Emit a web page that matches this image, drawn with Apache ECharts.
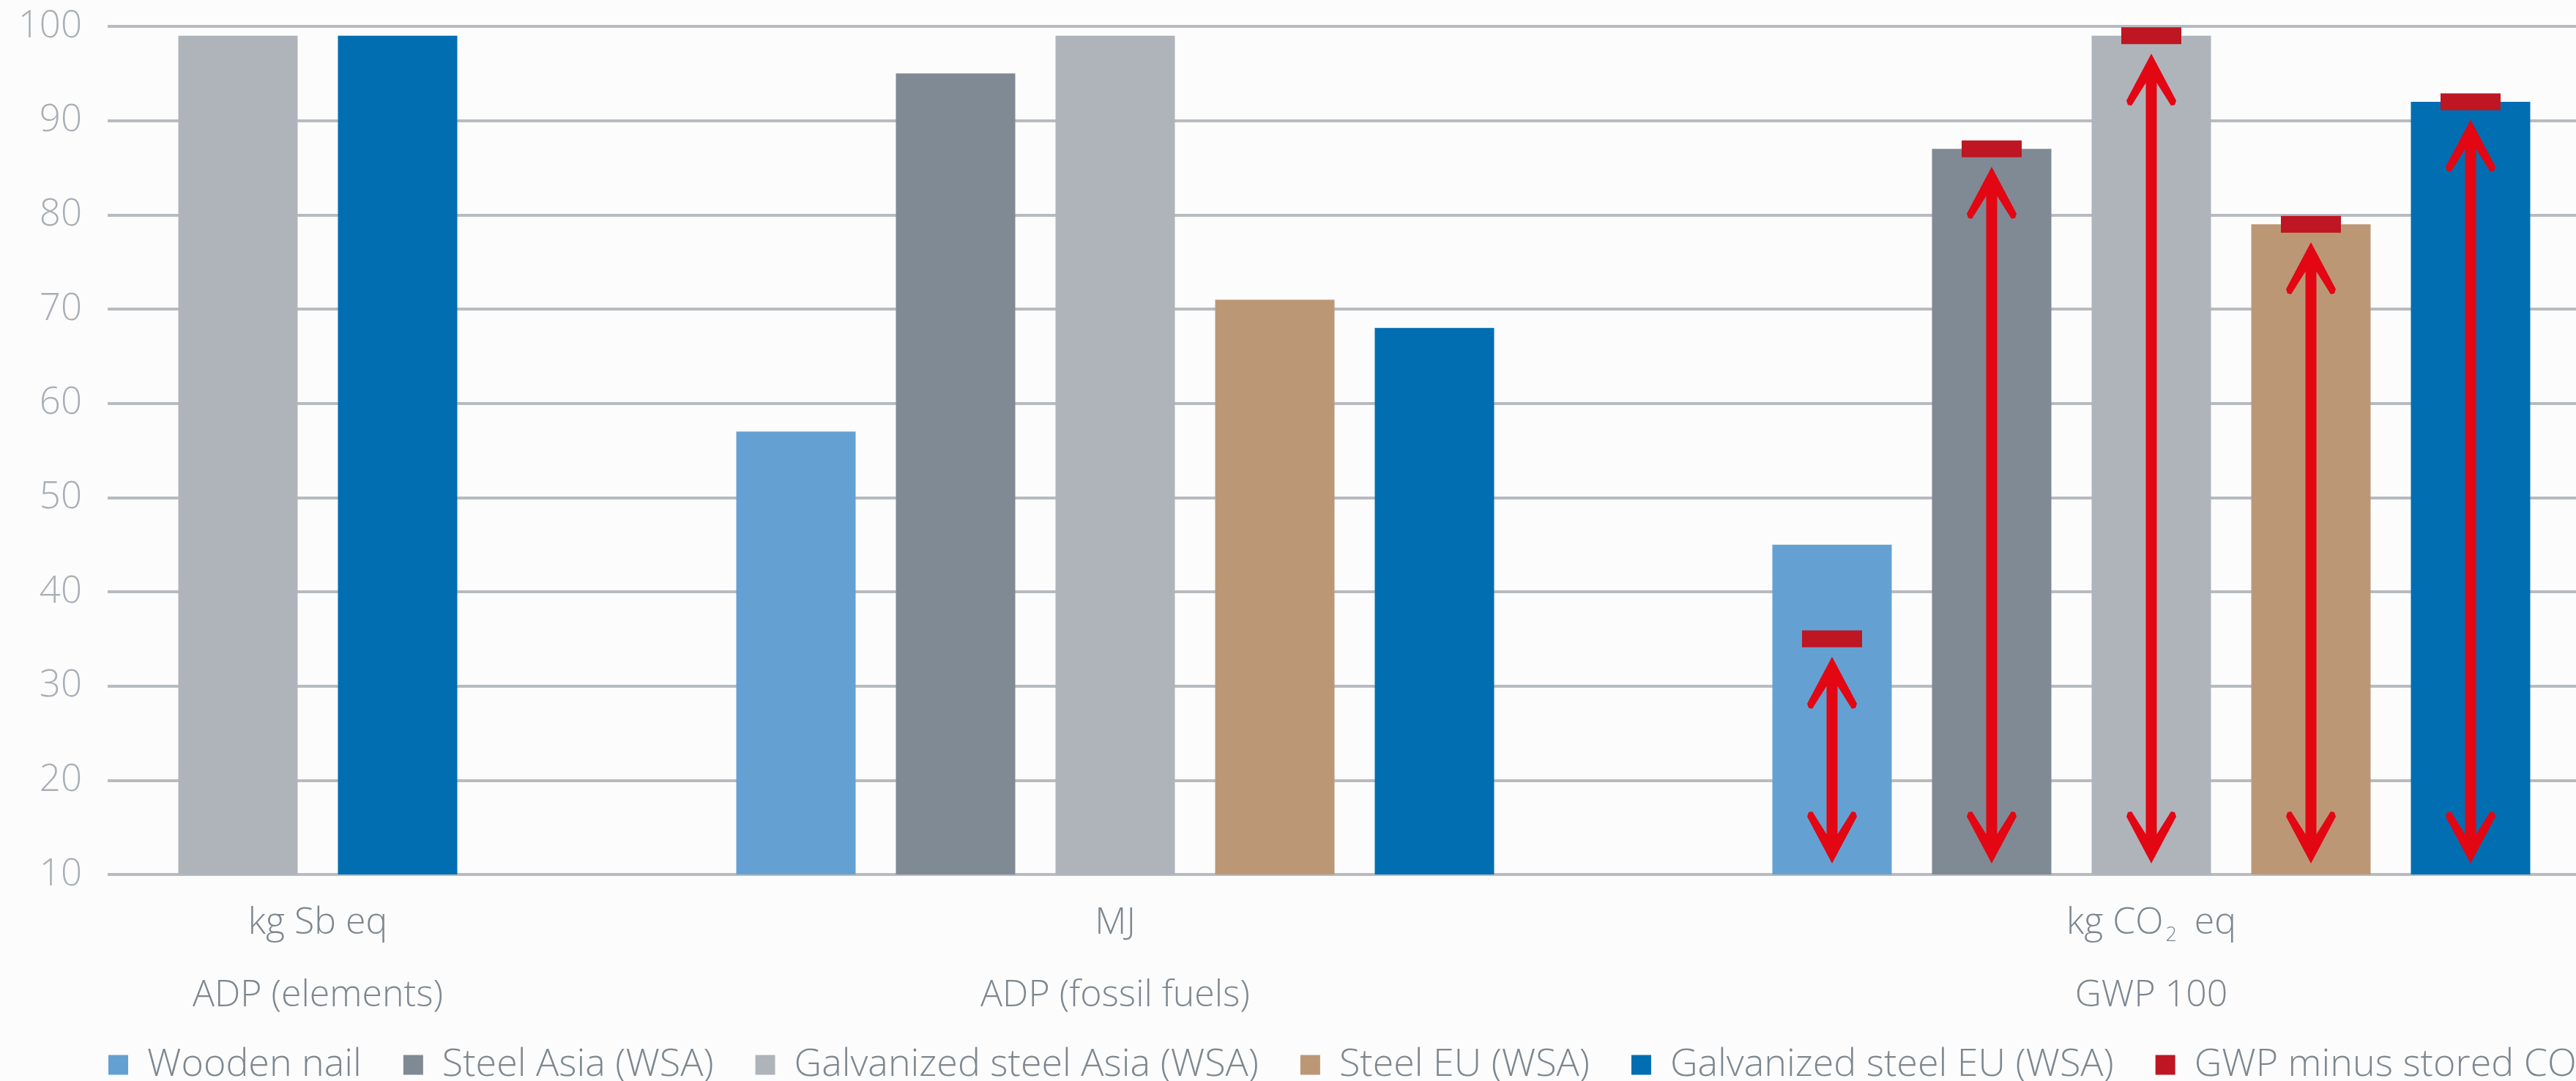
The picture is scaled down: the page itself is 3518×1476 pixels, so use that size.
<!DOCTYPE html>
<html>
<head>
<meta charset="utf-8">
<style>
html,body{margin:0;padding:0;background:#fcfcfc;}
#chart{width:3518px;height:1476px;}
</style>
<script src="https://cdn.jsdelivr.net/npm/echarts@6/dist/echarts.min.js"></script>
</head>
<body>
<div id="chart"></div>
<script>
// ---------------- data ----------------
const groupNames = ['ADP (elements)', 'ADP (fossil fuels)', 'GWP 100'];
const groupUnits = ['kg Sb eq', 'MJ', 'kg CO{sub|2}eq'];
const materials = ['Wooden nail', 'Steel Asia (WSA)', 'Galvanized steel Asia (WSA)', 'Steel EU (WSA)', 'Galvanized steel EU (WSA)'];
const adpElements = [null, null, 99, null, 99];
const adpFossilFuels = [57, 95, 99, 71, 68];
const gwp100 = [45, 87, 99, 79, 92];
const gwpMinusStoredName = 'GWP minus stored CO₂';
const gwpMinusStoredCO2 = [35, 87, 99, 79, 92];
const yMin = 10, yMax = 100, yInterval = 10;

// ---------------- styles ----------------
const materialColors = ['#65a0d2', '#808a94', '#afb4bb', '#bc9776', '#006eb1'];
const gwpMinusColor = '#be1622';
const arrowColor = '#e30613';
const FONT = '"Open Sans", "Liberation Sans", sans-serif';
const textColor = '#7e878f';
const gridTop = 36, gridBottom = 282;
const groupBoxes = [{left: 216, width: 436}, {left: 978, width: 1090}, {left: 2393, width: 1090}];

const groupValues = [adpElements, adpFossilFuels, gwp100];

const grids = [{left: 147, right: 0, top: gridTop, bottom: gridBottom}];
const xAxes = [{gridIndex: 0, type: 'category', data: [''], show: false}];
const yAxes = [{
  gridIndex: 0, type: 'value', min: yMin, max: yMax, interval: yInterval,
  axisLine: {show: false}, axisTick: {show: false},
  axisLabel: {margin: 35, fontSize: 51, color: '#a9aeb4', fontFamily: FONT, fontWeight: 300},
  splitLine: {lineStyle: {color: '#b7bbc0', width: 4}}
}];
const series = [];

groupValues.forEach(function (vals, g) {
  const gi = g + 1;
  const cats = materials.filter(function (m, i) { return vals[i] != null; });
  grids.push({left: groupBoxes[g].left, width: groupBoxes[g].width, top: gridTop, bottom: gridBottom});
  xAxes.push({
    gridIndex: gi, type: 'category', data: cats,
    axisLine: {show: false}, axisTick: {show: false}, axisLabel: {show: false},
    name: groupUnits[g] + '\n' + groupNames[g],
    nameLocation: 'middle', nameGap: 17,
    nameTextStyle: {
      fontSize: 50, color: textColor, fontFamily: FONT, fontWeight: 300, lineHeight: 99,
      rich: {sub: {fontSize: 27, color: textColor, fontFamily: FONT, fontWeight: 300, lineHeight: 40, padding: [34, 24, 0, 3]}}
    }
  });
  yAxes.push({gridIndex: gi, type: 'value', min: yMin, max: yMax, interval: yInterval, show: false});
  materials.forEach(function (m, i) {
    if (vals[i] == null) return;
    series.push({
      type: 'bar', name: m, xAxisIndex: gi, yAxisIndex: gi,
      barWidth: 163, barGap: '-100%',
      itemStyle: {color: materialColors[i]},
      data: cats.map(function (c) { return c === m ? vals[i] : null; }),
      z: 2
    });
  });
  if (g === 2) {
    // double-headed arrows from the axis base up to the "GWP minus stored CO2" marker
    series.push({
      type: 'custom', xAxisIndex: gi, yAxisIndex: gi, silent: true, z: 4,
      data: gwpMinusStoredCO2.map(function (v, i) { return [i, v]; }),
      renderItem: function (params, api) {
        const p = api.coord([api.value(0), api.value(1)]);
        const b = api.coord([api.value(0), yMin]);
        const x = p[0];
        const topTip = p[1] + 11.5 + 13;
        const botTip = b[1] - 15;
        const head = function (tipY, dir) {
          const pts = [[0, 0], [34, 64], [32, 70], [27, 71], [7.5, 40], [-7.5, 40], [-27, 71], [-32, 70], [-34, 64]];
          return pts.map(function (q) { return [x + q[0], tipY + dir * q[1]]; });
        };
        return {
          type: 'group',
          children: [
            {type: 'rect', shape: {x: x - 7.5, y: topTip + 30, width: 15, height: botTip - topTip - 60}, style: {fill: arrowColor}},
            {type: 'polygon', shape: {points: head(topTip, 1)}, style: {fill: arrowColor}},
            {type: 'polygon', shape: {points: head(botTip, -1)}, style: {fill: arrowColor}}
          ]
        };
      }
    });
    series.push({
      type: 'scatter', name: gwpMinusStoredName, xAxisIndex: gi, yAxisIndex: gi,
      symbol: 'rect', symbolSize: [82, 23], z: 5,
      itemStyle: {color: gwpMinusColor, opacity: 1},
      data: gwpMinusStoredCO2
    });
  }
});

const chart = echarts.init(document.getElementById('chart'), null, {renderer: 'canvas'});
chart.setOption({
  backgroundColor: '#fcfcfc',
  animation: false,
  grid: grids,
  xAxis: xAxes,
  yAxis: yAxes,
  legend: {
    left: 148, top: 1428, width: 4000, padding: 0,
    itemWidth: 27, itemHeight: 27, itemGap: 57, icon: 'rect',
    textStyle: {fontSize: 52, color: textColor, fontFamily: FONT, fontWeight: 300, padding: [0, 0, 0, 21]},
    data: materials.concat([gwpMinusStoredName])
  },
  series: series
});
</script>
</body>
</html>
